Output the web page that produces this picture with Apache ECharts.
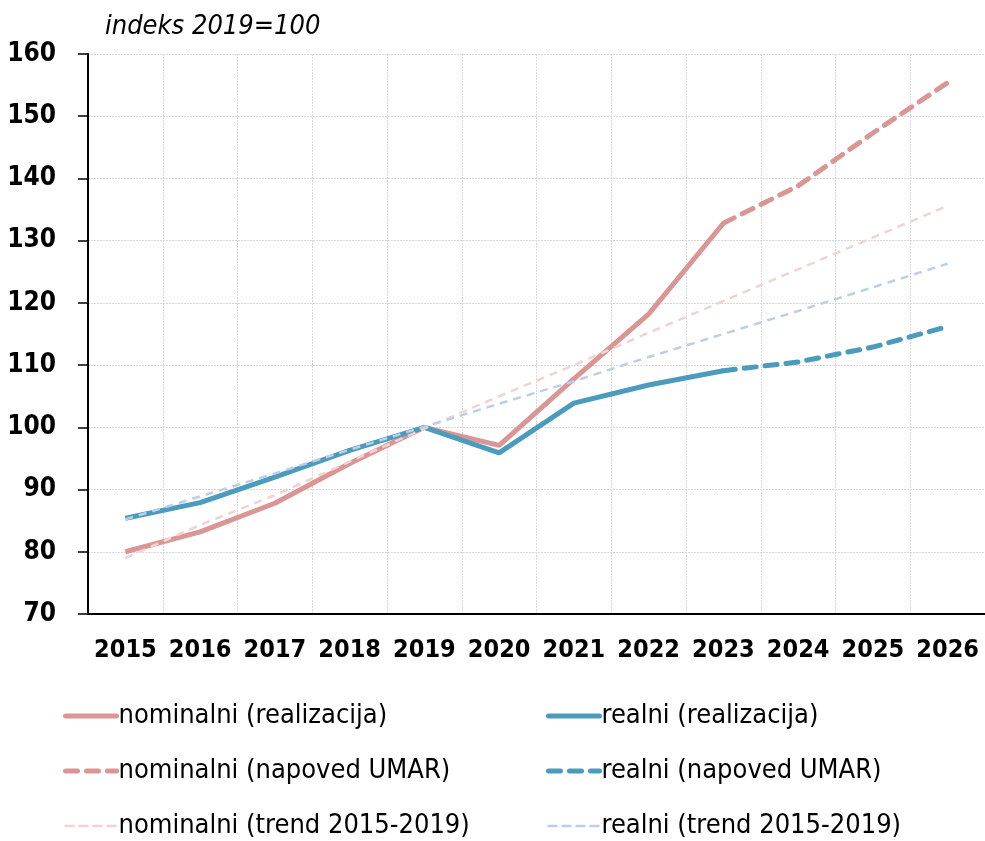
<!DOCTYPE html>
<html>
<head>
<meta charset="utf-8">
<script src="https://cdn.jsdelivr.net/npm/echarts@6/dist/echarts.min.js"></script>
<style>
  html, body { margin: 0; padding: 0; background: #fff; }
  #main { width: 985px; height: 841px; }
</style>
</head>
<body>
<div id="main"></div>
<script>
const years = ['2015', '2016', '2017', '2018', '2019', '2020', '2021', '2022', '2023', '2024', '2025', '2026']

const nominalActual = [80.0, 83.2, 87.8, 94.2, 100.0, 97.1, 107.8, 118.2, 132.8, null, null, null]
const realActual = [85.4, 87.9, 92.0, 96.3, 100.0, 95.9, 103.9, 106.8, 109.1, null, null, null]
const nominalForecast = [null, null, null, null, null, null, null, null, 132.8, 138.8, 147.3, 155.4]
const realForecast = [null, null, null, null, null, null, null, null, 109.1, 110.5, 112.9, 116.2]
const nominalTrend = [79.0, 84.3, 89.1, 94.5, 99.8, 105.0, 110.0, 115.2, 120.3, 125.4, 130.5, 135.6]
const realTrend = [85.2, 88.9, 92.6, 96.4, 100.1, 103.8, 107.4, 111.3, 115.0, 118.7, 122.5, 126.3]

const yTicks = { min: 70, max: 160, step: 10 }

const font = '"DejaVu Sans Condensed", "Liberation Sans Narrow", "DejaVu Sans", sans-serif'
const pink = '#D99694'
const blue = '#4B9BBD'
const pinkLight = '#F2D3D2'
const blueLight = '#BCCFE6'

const myChart = echarts.init(document.getElementById('main'))

const legendBase = {
  orient: 'vertical',
  top: 702,
  padding: 0,
  itemWidth: 51,
  itemHeight: 14,
  itemGap: 27,
  itemStyle: { opacity: 0 },
  lineStyle: { width: 'inherit', cap: 'round' },
  textStyle: { fontFamily: font, fontSize: 27, color: '#000', lineHeight: 28, padding: [0, 0, 0, -3] }
}

const option = {
  animation: false,
  title: {
    text: 'indeks 2019=100',
    left: 100,
    top: 8,
    textStyle: { fontFamily: font, fontSize: 27, fontStyle: 'italic', fontWeight: 'normal', color: '#000' }
  },
  legend: [
    Object.assign({}, legendBase, {
      left: 63,
      data: ['nominalni (realizacija)', 'nominalni (napoved UMAR)', 'nominalni (trend 2015-2019)']
    }),
    Object.assign({}, legendBase, {
      left: 546,
      data: ['realni (realizacija)', 'realni (napoved UMAR)', 'realni (trend 2015-2019)']
    })
  ],
  grid: { left: 88, right: 0, top: 54, bottom: 227, outerBoundsMode: 'none' },
  xAxis: {
    type: 'category',
    data: years,
    boundaryGap: true,
    axisLine: { lineStyle: { color: '#000', width: 2 } },
    axisTick: { length: 10, lineStyle: { color: '#000', width: 1.5 } },
    axisLabel: { interval: 0, margin: 24, fontFamily: font, fontSize: 25, fontWeight: 'bold', color: '#000' },
    splitLine: { show: true, lineStyle: { color: '#d9d9d9', type: [2, 1] } }
  },
  yAxis: {
    type: 'value',
    min: yTicks.min,
    max: yTicks.max,
    interval: yTicks.step,
    axisLine: { show: true, lineStyle: { color: '#000', width: 2 } },
    axisTick: { show: true, length: 10, lineStyle: { color: '#000', width: 1.5 } },
    axisLabel: { margin: 32, fontFamily: font, fontSize: 26, fontWeight: 'bold', color: '#000' },
    splitLine: { show: true, lineStyle: { color: '#d9d9d9', type: [2, 1] } }
  },
  series: [
    {
      name: 'nominalni (realizacija)',
      type: 'line',
      data: nominalActual,
      symbol: 'none',
      color: pink,
      lineStyle: { width: 5, color: pink },
      z: 2
    },
    {
      name: 'realni (realizacija)',
      type: 'line',
      data: realActual,
      symbol: 'none',
      color: blue,
      lineStyle: { width: 5, color: blue },
      z: 2
    },
    {
      name: 'nominalni (napoved UMAR)',
      type: 'line',
      data: nominalForecast,
      symbol: 'none',
      color: pink,
      lineStyle: { width: 5, color: pink, type: [12, 9], cap: 'round' },
      z: 2
    },
    {
      name: 'realni (napoved UMAR)',
      type: 'line',
      data: realForecast,
      symbol: 'none',
      color: blue,
      lineStyle: { width: 5, color: blue, type: [12, 9], cap: 'round' },
      z: 2
    },
    {
      name: 'nominalni (trend 2015-2019)',
      type: 'line',
      data: nominalTrend,
      symbol: 'none',
      color: pinkLight,
      lineStyle: { width: 2.5, color: pinkLight, type: [8, 6] },
      z: 3
    },
    {
      name: 'realni (trend 2015-2019)',
      type: 'line',
      data: realTrend,
      symbol: 'none',
      color: blueLight,
      lineStyle: { width: 2.5, color: blueLight, type: [8, 6] },
      z: 3
    }
  ]
}

myChart.setOption(option)
</script>
</body>
</html>
